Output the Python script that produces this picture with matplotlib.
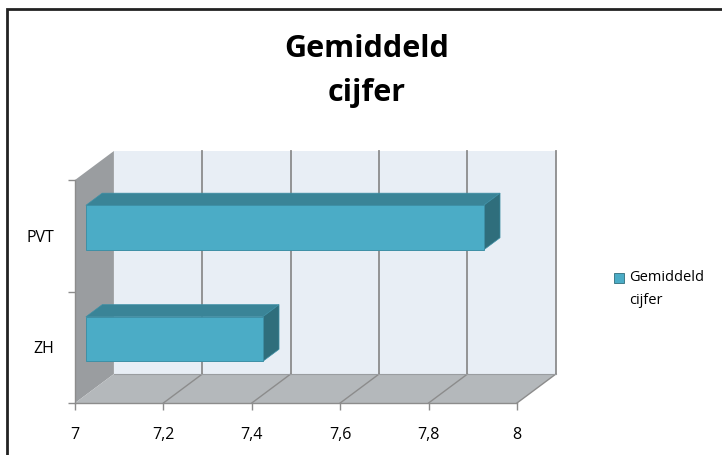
import matplotlib
matplotlib.use("Agg")
import matplotlib.pyplot as plt
from matplotlib.patches import Polygon, Rectangle

plt.rcParams["font.family"] = ["Open Sans", "DejaVu Sans"]

# ---- data ------------------------------------------------------------------
categories = ["ZH", "PVT"]
values = [7.4, 7.9]
series_name = "Gemiddeld\ncijfer"
xticks = [7.0, 7.2, 7.4, 7.6, 7.8, 8.0]
xticklabels = ["7", "7,2", "7,4", "7,6", "7,8", "8"]
title = "Gemiddeld\ncijfer"

# ---- colours -----------------------------------------------------------------
C_FRONT = "#4BACC6"
C_TOP = "#3A8497"
C_SIDE = "#2F6E7C"
C_EDGE = "#3E90A6"
C_BACK = "#E8EEF5"
C_LEFT = "#9A9DA0"
C_FLOOR = "#B4B8BB"
C_GRID = "#8C8C8C"

# oblique "3D" depth offset in data units
DX, DY = 0.088, 0.26
XMIN, XMAX = 7.0, 8.0
NCAT = len(categories)
BAR_H = 0.4
D0, D1 = 0.28, 0.70   # bar depth range as fraction of DX/DY

W, H = 722, 455
fig = plt.figure(figsize=(W / 100, H / 100), dpi=100)
# pixel -> figure fraction placement of the plot area
px_per_x = 442.0
px_per_cat = 111.5
left_px, right_px = 75, 575
bot_px, top_px = 403, 130
ax = fig.add_axes([left_px / W, (H - bot_px) / H,
                   (right_px - left_px) / W, (bot_px - top_px) / H])
ax.set_xlim(XMIN, XMIN + (right_px - left_px) / px_per_x)
ax.set_ylim(0, (bot_px - top_px) / px_per_cat)
ax.set_facecolor("none")


def poly(pts, color, z, ec="none", lw=0):
    ax.add_patch(Polygon(pts, closed=True, facecolor=color, edgecolor=ec,
                         linewidth=lw, zorder=z))


# back wall
poly([(XMIN + DX, DY), (XMAX + DX, DY), (XMAX + DX, NCAT + DY),
      (XMIN + DX, NCAT + DY)], C_BACK, 1)
# left wall
poly([(XMIN, 0), (XMIN + DX, DY), (XMIN + DX, NCAT + DY), (XMIN, NCAT)],
     C_LEFT, 2)
# floor
poly([(XMIN, 0), (XMAX, 0), (XMAX + DX, DY), (XMIN + DX, DY)], C_FLOOR, 2)

# gridlines on back wall and floor
for v in xticks[1:]:
    ax.plot([v + DX, v + DX], [DY, NCAT + DY], color=C_GRID, lw=1.3, zorder=1.5)
    ax.plot([v, v + DX], [0, DY], color=C_GRID, lw=1.0, zorder=3)
ax.plot([XMIN + DX, XMAX + DX], [DY, DY], color="#9A9DA0", lw=0.8, zorder=3)

# bars: front face, top face, right side
for i, v in enumerate(values):
    y0 = i + 0.5 - BAR_H / 2
    y1 = i + 0.5 + BAR_H / 2
    fx0, fy0 = D0 * DX, D0 * DY
    bx0, by0 = D1 * DX, D1 * DY
    z = 10 + (NCAT - i)
    poly([(XMIN + fx0, y1 + fy0), (v + fx0, y1 + fy0), (v + bx0, y1 + by0),
          (XMIN + bx0, y1 + by0)], C_TOP, z, C_EDGE, 0.5)
    poly([(v + fx0, y0 + fy0), (v + bx0, y0 + by0), (v + bx0, y1 + by0),
          (v + fx0, y1 + fy0)], C_SIDE, z, C_EDGE, 0.5)
    poly([(XMIN + fx0, y0 + fy0), (v + fx0, y0 + fy0), (v + fx0, y1 + fy0),
          (XMIN + fx0, y1 + fy0)], C_FRONT, z + 0.5, C_EDGE, 0.7)

# axes lines and ticks
for s in ["top", "right"]:
    ax.spines[s].set_visible(False)
ax.spines["left"].set_bounds(0, NCAT)
ax.spines["bottom"].set_bounds(XMIN, XMAX)
for s in ["left", "bottom"]:
    ax.spines[s].set_color("#8C8C8C")
    ax.spines[s].set_linewidth(1.0)
    ax.spines[s].set_zorder(5)

ax.set_xticks(xticks)
ax.set_xticklabels(xticklabels, fontsize=11.5, color="#000000")
ax.tick_params(axis="x", length=5, width=1, color="#8C8C8C", pad=12)
ax.set_yticks(range(NCAT + 1))
ax.set_yticklabels([])
ax.tick_params(axis="y", which="major", length=5, width=1, color="#8C8C8C")
ax.set_yticks([i + 0.5 for i in range(NCAT)], minor=True)
ax.set_yticklabels(categories, minor=True, fontsize=11.5)
ax.tick_params(axis="y", which="minor", length=0, pad=15)

# title
fig.text(367 / W, 1 - 71 / H, title, ha="center", va="center",
         fontsize=22, fontweight="bold", linespacing=1.6)

# legend
fig.patches.append(Rectangle((614 / W, 1 - 283 / H), 10 / W, 10 / H,
                             transform=fig.transFigure, facecolor=C_FRONT,
                             edgecolor=C_SIDE, linewidth=0.6))
fig.text(629 / W, 1 - 289 / H, series_name, ha="left", va="center",
         fontsize=10.5, linespacing=1.7)

# chart border
fig.patches.append(Rectangle((7 / W, -0.1), 1.1, 1.1 - 9 / H,
                             transform=fig.transFigure, facecolor="none",
                             edgecolor="#222222", linewidth=2))

fig.savefig("out.png", dpi=100)
